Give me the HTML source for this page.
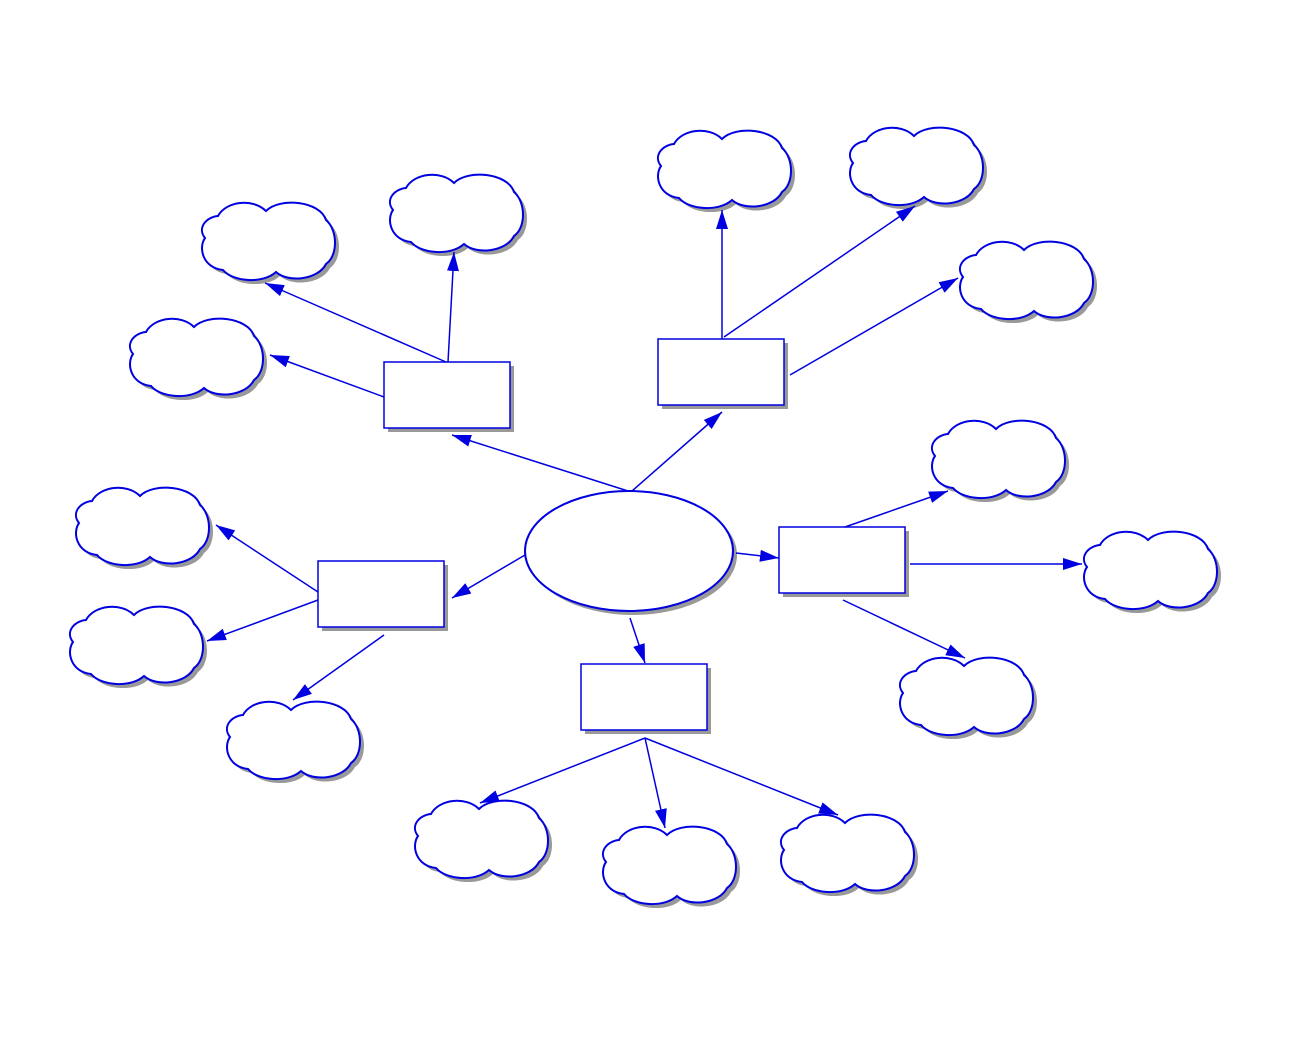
<!DOCTYPE html>
<html><head><meta charset="utf-8"><style>html,body{margin:0;padding:0;background:#fff}svg{display:block}</style></head>
<body>
<svg width="1314" height="1040" viewBox="0 0 1314 1040" xmlns="http://www.w3.org/2000/svg">
<defs>
<marker id="ah" markerUnits="userSpaceOnUse" markerWidth="20" markerHeight="14" refX="19" refY="6" orient="auto">
<path d="M0,0 L19,6 L0,12 Z" fill="#0000e0"/>
</marker>
<symbol id="cl" overflow="visible">
<path d="M20,18 C28,3 55,0 68,13 C82,-1 122,3 128,22 C140,32 140,58 128,66 C120,82 90,85 78,74 C65,86 35,84 25,72 C5,70 0,50 7,40 C-1,30 8,19 20,18 Z" fill="#999" transform="translate(4,4)"/>
<path d="M20,18 C28,3 55,0 68,13 C82,-1 122,3 128,22 C140,32 140,58 128,66 C120,82 90,85 78,74 C65,86 35,84 25,72 C5,70 0,50 7,40 C-1,30 8,19 20,18 Z" fill="#fff" stroke="#0000e0" stroke-width="2"/>
</symbol>
</defs>
<g>
<use href="#cl" x="198" y="198"/>
<use href="#cl" x="386" y="170"/>
<use href="#cl" x="126" y="314"/>
<use href="#cl" x="654" y="126"/>
<use href="#cl" x="846" y="123"/>
<use href="#cl" x="956" y="237"/>
<use href="#cl" x="928" y="416"/>
<use href="#cl" x="1080" y="527"/>
<use href="#cl" x="896" y="653"/>
<use href="#cl" x="72" y="483"/>
<use href="#cl" x="66" y="602"/>
<use href="#cl" x="223" y="697"/>
<use href="#cl" x="411" y="796"/>
<use href="#cl" x="599" y="822"/>
<use href="#cl" x="777" y="810"/>
</g>
<g fill="#999">
<rect x="388" y="366" width="126" height="66"/>
<rect x="662" y="343" width="126" height="66"/>
<rect x="783" y="531" width="126" height="66"/>
<rect x="322" y="565" width="126" height="66"/>
<rect x="585" y="668" width="126" height="66"/>
<ellipse cx="633" cy="555" rx="104" ry="60"/>
</g>
<g fill="#fff" stroke="#0000e0" stroke-width="1.5">
<rect x="384" y="362" width="126" height="66"/>
<rect x="658" y="339" width="126" height="66"/>
<rect x="779" y="527" width="126" height="66"/>
<rect x="318" y="561" width="126" height="66"/>
<rect x="581" y="664" width="126" height="66"/>
<ellipse cx="629" cy="551" rx="104" ry="60" stroke-width="2"/>
</g>
<g stroke="#0000e0" stroke-width="1.5" fill="none" marker-end="url(#ah)">
<line x1="628" y1="491" x2="452" y2="435"/>
<line x1="632" y1="491" x2="722" y2="412"/>
<line x1="736" y1="553" x2="779" y2="558"/>
<line x1="525" y1="555" x2="452" y2="598"/>
<line x1="630" y1="618" x2="645" y2="663"/>
<line x1="448" y1="362" x2="454" y2="252"/>
<line x1="446" y1="362" x2="265" y2="283"/>
<line x1="384" y1="397" x2="270" y2="355"/>
<line x1="722" y1="339" x2="722" y2="210"/>
<line x1="724" y1="337" x2="915" y2="206"/>
<line x1="790" y1="375" x2="958" y2="278"/>
<line x1="845" y1="527" x2="948" y2="491"/>
<line x1="910" y1="564" x2="1082" y2="564"/>
<line x1="843" y1="600" x2="965" y2="658"/>
<line x1="318" y1="592" x2="216" y2="525"/>
<line x1="318" y1="600" x2="207" y2="641"/>
<line x1="384" y1="635" x2="293" y2="700"/>
<line x1="645" y1="738" x2="480" y2="803"/>
<line x1="645" y1="738" x2="665" y2="828"/>
<line x1="645" y1="738" x2="838" y2="815"/>
</g>
</svg>
</body></html>
